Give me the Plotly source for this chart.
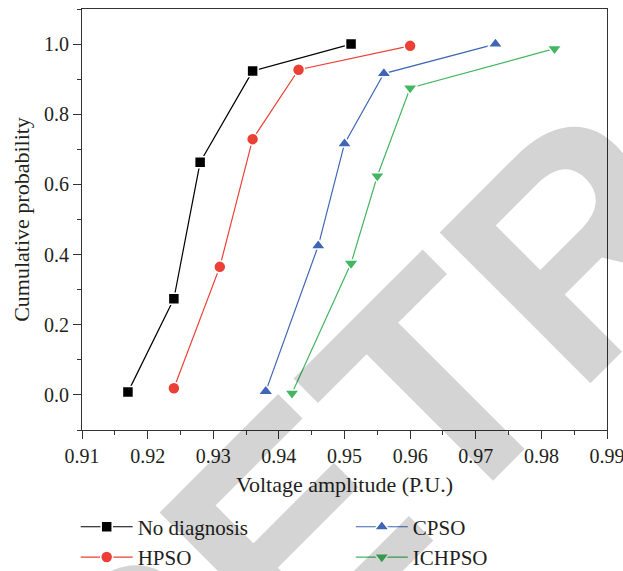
import plotly.graph_objects as go

# Data
no_diag_x = [0.917, 0.924, 0.928, 0.936, 0.951]
no_diag_y = [0.008, 0.274, 0.663, 0.923, 1.000]

hpso_x = [0.924, 0.931, 0.936, 0.943, 0.960]
hpso_y = [0.019, 0.365, 0.729, 0.927, 0.995]

cpso_x = [0.938, 0.946, 0.950, 0.956, 0.973]
cpso_y = [0.010, 0.425, 0.716, 0.916, 1.000]

ichpso_x = [0.942, 0.951, 0.955, 0.960, 0.982]
ichpso_y = [0.005, 0.375, 0.624, 0.875, 0.987]

x_ticks = [0.91, 0.92, 0.93, 0.94, 0.95, 0.96, 0.97, 0.98, 0.99]
y_ticks = [0.0, 0.2, 0.4, 0.6, 0.8, 1.0]

FONT = "Liberation Serif"
TXT = "#231f20"

series = [
    ("No diagnosis", no_diag_x, no_diag_y, "#000000", "square", 11, "legend", "g1"),
    ("HPSO", hpso_x, hpso_y, "#ea4036", "circle", 12, "legend", "g2"),
    ("CPSO", cpso_x, cpso_y, "#3f66b4", "triangle-up", 13, "legend2", "g3"),
    ("ICHPSO", ichpso_x, ichpso_y, "#42b660", "triangle-down", 13, "legend2", "g4"),
]

fig = go.Figure()
for name, xs, ys, col, sym, sz, leg, grp in series:
    fig.add_trace(go.Scatter(
        x=xs, y=ys, mode="lines+markers", name=name,
        line=dict(color=col, width=1.2),
        marker=dict(symbol=sym, size=sz, color=col, line=dict(color="white", width=1.5)),
        legend=leg, legendgroup=grp,
    ))

axis_common = dict(
    showline=True, linecolor="#333333", linewidth=1.2, mirror=True,
    ticks="outside", ticklen=8, tickwidth=1.2, tickcolor="#333333",
    showgrid=False, zeroline=False,
    tickfont=dict(family=FONT, size=20, color=TXT),
    minor=dict(ticks="outside", ticklen=4, tickwidth=1.2, tickcolor="#333333", showgrid=False),
)

fig.update_xaxes(
    range=[0.91, 0.99], tickvals=x_ticks, ticktext=[f"{v:.2f}" for v in x_ticks],
    minor_dtick=0.005, ticklabeloverflow="allow",
    title=dict(text="Voltage amplitude (P.U.)", font=dict(family=FONT, size=22, color=TXT), standoff=10),
    **axis_common,
)
fig.update_yaxes(
    range=[-0.1, 1.1], tickvals=y_ticks, ticktext=[f"{v:.1f}" for v in y_ticks],
    minor_dtick=0.1,
    title=dict(text="Cumulative probability", font=dict(family=FONT, size=22, color=TXT), standoff=8),
    **axis_common,
)

legend_common = dict(
    orientation="v", yanchor="top", xanchor="left",
    font=dict(family=FONT, size=21, color=TXT),
    bgcolor="rgba(0,0,0,0)", borderwidth=0, tracegroupgap=0,
    itemwidth=52,
)

fig.update_layout(
    width=623, height=571,
    margin=dict(l=82, r=16, t=9, b=141, autoexpand=False),
    paper_bgcolor="white", plot_bgcolor="white",
    showlegend=True,
    legend=dict(x=-0.012, y=-0.182, **legend_common),
    legend2=dict(x=0.512, y=-0.182, **legend_common),
    annotations=[dict(
        text="<b>RETRACTED</b>", xref="paper", yref="paper",
        x=(737 - 82) / 525, y=(430 - 84) / 421,
        xanchor="center", yanchor="middle", textangle=-45, showarrow=False,
        font=dict(family="Liberation Sans", size=310, color="rgba(0,0,0,0.17)"),
    )],
)

fig.write_html("out.html")
